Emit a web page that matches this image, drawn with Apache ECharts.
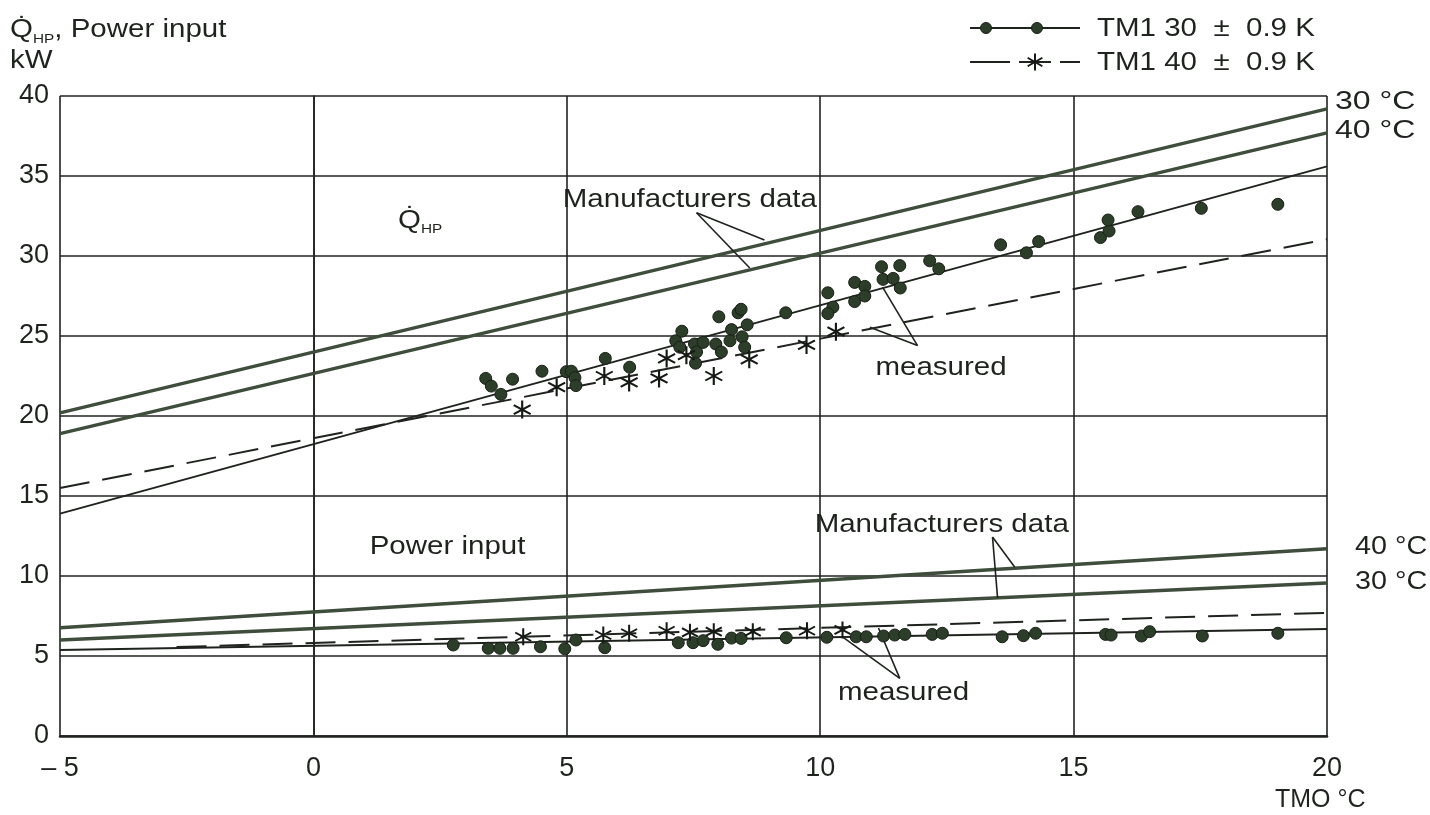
<!DOCTYPE html>
<html>
<head>
<meta charset="utf-8">
<script src="https://cdn.jsdelivr.net/npm/echarts@6/dist/echarts.min.js"></script>
<style>
  html, body { margin: 0; padding: 0; background: #fff; }
  #chart { width: 1430px; height: 815px; }
</style>
</head>
<body>
<div id="chart"></div>
<script>
// Outdoor temperature axis (TMO, °C) and power axis (kW)
const xTicks = [-5, 0, 5, 10, 15, 20];
const yTicks = [0, 5, 10, 15, 20, 25, 30, 35, 40];

// Heat output, manufacturer's straight lines (TMO, kW)
const qMfr30 = [[-5, 20.2], [20, 39.2]];
const qMfr40 = [[-5, 18.9], [20, 37.7]];
// Heat output, fitted lines through the measurements
const qFit30 = [[-5, 13.9], [20, 35.6]];
const qFit40 = [[-5, 15.5], [20, 31.05]];

// Power input, manufacturer's lines
const pMfr40 = [[-5, 6.77], [20, 11.7]];
const pMfr30 = [[-5, 6.0], [20, 9.56]];
// Power input, fitted lines through the measurements
const pFit30 = [[-5, 5.37], [20, 6.69]];
const pFit40 = [[-2.7, 5.56], [20, 7.7]];

// Measured heat output, TM1 30 ± 0.9 K
const qMeas30 = [
  [3.40, 22.35], [3.51, 21.87], [3.70, 21.35], [3.93, 22.3], [4.51, 22.8],
  [4.99, 22.77], [5.09, 22.8], [5.16, 22.4], [5.18, 21.9], [5.76, 23.6],
  [6.24, 23.05], [7.15, 24.7], [7.27, 25.3], [7.23, 24.3], [7.52, 24.5],
  [7.56, 24.0], [7.54, 23.3], [7.69, 24.6], [8.0, 26.2], [7.94, 24.5],
  [8.05, 24.0], [8.38, 26.45], [8.44, 26.67], [8.25, 25.4], [8.22, 24.7],
  [8.46, 24.95], [8.51, 24.3], [8.56, 25.7], [9.32, 26.45], [10.15, 27.7],
  [10.25, 26.8], [10.15, 26.4], [10.68, 28.35], [10.88, 28.1], [10.68, 27.15],
  [10.88, 27.5], [11.21, 29.33], [11.24, 28.54], [11.44, 28.6], [11.57, 29.4],
  [11.58, 28.0], [12.16, 29.7], [12.34, 29.2], [13.56, 30.7], [14.07, 30.2],
  [14.31, 30.9], [15.53, 31.15], [15.70, 31.56], [15.68, 32.25], [16.27, 32.77],
  [17.52, 32.98], [19.03, 33.23]
];
// Measured heat output, TM1 40 ± 0.9 K
const qMeas40 = [
  [4.12, 20.4], [4.80, 21.8], [5.74, 22.5], [6.23, 22.1], [6.82, 22.35],
  [6.97, 23.6], [7.36, 23.8], [7.90, 22.5], [8.60, 23.54], [9.73, 24.44],
  [10.31, 25.27]
];
// Measured power input, TM1 30 ± 0.9 K
const pMeas30 = [
  [2.76, 5.69], [3.45, 5.48], [3.68, 5.48], [3.94, 5.48], [4.48, 5.58],
  [4.96, 5.45], [5.18, 6.0], [5.75, 5.52], [7.20, 5.83], [7.49, 5.83],
  [7.69, 5.96], [7.98, 5.73], [8.25, 6.12], [8.44, 6.1], [9.33, 6.14],
  [10.13, 6.17], [10.71, 6.2], [10.91, 6.2], [11.25, 6.25], [11.47, 6.31],
  [11.67, 6.35], [12.21, 6.35], [12.41, 6.42], [13.59, 6.2], [14.01, 6.27],
  [14.25, 6.42], [15.63, 6.35], [15.74, 6.31], [16.34, 6.25], [16.50, 6.52],
  [17.54, 6.25], [19.03, 6.42]
];
// Measured power input, TM1 40 ± 0.9 K
const pMeas40 = [
  [4.14, 6.2], [5.72, 6.31], [6.23, 6.42], [6.97, 6.58], [7.43, 6.48],
  [7.90, 6.52], [8.67, 6.52], [9.74, 6.58], [10.44, 6.63]
];

// Leader lines from the annotations to the curves (data units)
const leaderQMfr = [[[7.56, 32.7], [8.9, 31.0]], [[7.56, 32.7], [8.61, 29.25]]];
const leaderQMeas = [[[11.23, 28.06], [11.92, 24.4]], [[10.98, 25.55], [11.92, 24.4]]];
const leaderPMfr = [[[13.4, 12.44], [13.84, 10.55]], [[13.4, 12.44], [13.5, 8.63]]];
const leaderPMeas = [[[10.44, 6.19], [11.57, 3.6]], [[11.15, 6.75], [11.57, 3.6]]];

// Annotation texts anchored in data units (left edge, vertical middle)
const notes = [
  { at: [4.92, 33.5], text: 'Manufacturers data' },
  { at: [11.09, 23.0], text: 'measured' },
  { at: [1.11, 11.8], text: 'Power input' },
  { at: [9.89, 13.2], text: 'Manufacturers data' },
  { at: [10.35, 2.7], text: 'measured' }
];

// Supply temperature tags at the right-hand end of the manufacturer's lines
const endTags = [
  { line: qMfr30, text: '30 °C', dx: 8, dy: -7, sx: 1.28 },
  { line: qMfr40, text: '40 °C', dx: 8, dy: -2, sx: 1.28 },
  { line: pMfr40, text: '40 °C', dx: 28, dy: -2, sx: 1.15 },
  { line: pMfr30, text: '30 °C', dx: 28, dy: -1, sx: 1.15 }
];

const FONT = '"Liberation Sans", Arial, sans-serif';
const INK = '#1f231e';
const MFR = '#3f4d3c';
const DOT = '#2c3d29';
const STRETCH = 1.18;

// Six-armed asterisk: one thin bar per direction
function starBars(L, w) {
  return [90, 30, -30].map(a => {
    const r = a * Math.PI / 180;
    const cx = Math.cos(r), cy = Math.sin(r);
    const px = -cy, py = cx;
    return [
      [L * cx + w * px, L * cy + w * py],
      [-L * cx + w * px, -L * cy + w * py],
      [-L * cx - w * px, -L * cy - w * py],
      [L * cx - w * px, L * cy - w * py]
    ];
  });
}
const STAR = 'path://' + starBars(10, 1.1)
  .map(pts => 'M' + pts.map(p => p[0].toFixed(2) + ',' + p[1].toFixed(2)).join('L') + 'Z').join('');

function lineSeries(data, opts) {
  return Object.assign({
    type: 'line', data: data, symbol: 'none', silent: true,
    animation: false, z: 3,
    lineStyle: { color: INK, width: 2 }
  }, opts || {});
}

const series = [
  lineSeries(qMfr30, { lineStyle: { color: MFR, width: 3.4 } }),
  lineSeries(qMfr40, { lineStyle: { color: MFR, width: 3.4 } }),
  lineSeries(pMfr40, { lineStyle: { color: MFR, width: 3.4 } }),
  lineSeries(pMfr30, { lineStyle: { color: MFR, width: 3.4 } }),
  lineSeries(qFit30, { lineStyle: { color: INK, width: 2 } }),
  lineSeries(qFit40, { lineStyle: { color: INK, width: 2, type: [30, 13] } }),
  lineSeries(pFit30, { lineStyle: { color: INK, width: 2 } }),
  lineSeries(pFit40, { lineStyle: { color: INK, width: 2, type: [30, 13] } })
];
[leaderQMfr, leaderQMeas, leaderPMfr, leaderPMeas].forEach(group => {
  group.forEach(seg => series.push(lineSeries(seg, { lineStyle: { color: INK, width: 1.6 } })));
});

const dotStyle = { color: DOT, borderColor: '#182016', borderWidth: 1, opacity: 1 };
const starStyle = { color: '#151a14', opacity: 1 };
series.push(
  { type: 'scatter', name: 'TM1 30', data: qMeas30, symbol: 'circle', symbolSize: 12, itemStyle: dotStyle, z: 5, animation: false },
  { type: 'scatter', name: 'TM1 30', data: pMeas30, symbol: 'circle', symbolSize: 12, itemStyle: dotStyle, z: 5, animation: false },
  { type: 'scatter', name: 'TM1 40', data: qMeas40, symbol: STAR, symbolSize: 18, itemStyle: starStyle, z: 5, animation: false },
  { type: 'scatter', name: 'TM1 40', data: pMeas40, symbol: STAR, symbolSize: 17, itemStyle: starStyle, z: 5, animation: false }
);

const chart = echarts.init(document.getElementById('chart'), null, { renderer: 'canvas' });
chart.setOption({
  backgroundColor: '#fff',
  animation: false,
  grid: { left: 60, right: 103, top: 96, bottom: 79, containLabel: false },
  xAxis: {
    type: 'value', min: xTicks[0], max: xTicks[xTicks.length - 1], interval: 5,
    axisLine: { show: true, onZero: false, lineStyle: { color: INK, width: 2.5 } },
    axisTick: { show: false },
    splitLine: { show: true, lineStyle: { color: INK, width: 1.6 } },
    axisLabel: {
      color: INK, fontSize: 27, fontFamily: FONT, margin: 19,
      formatter: v => v < 0 ? '– ' + Math.abs(v) : String(v)
    }
  },
  yAxis: {
    type: 'value', min: yTicks[0], max: yTicks[yTicks.length - 1], interval: 5,
    axisLine: { show: true, lineStyle: { color: INK, width: 1.6 } },
    axisTick: { show: false },
    splitLine: { show: true, lineStyle: { color: INK, width: 1.6 } },
    axisLabel: { color: INK, fontSize: 27, fontFamily: FONT, margin: 11 }
  },
  series: series
});

// Texts and legend, placed once the scales exist
const graphics = [];
const txt = (x, y, text, sx) => ({
  type: 'text', x: x, y: y, scaleX: sx || STRETCH, silent: true, z: 10,
  style: { text: text, fill: INK, font: '25px ' + FONT, textVerticalAlign: 'middle' }
});

notes.forEach(n => {
  const p = chart.convertToPixel({ gridIndex: 0 }, n.at);
  graphics.push(txt(p[0], p[1], n.text));
});

endTags.forEach(t => {
  const end = t.line[t.line.length - 1];
  const p = chart.convertToPixel({ gridIndex: 0 }, end);
  graphics.push(txt(p[0] + t.dx, p[1] + t.dy, t.text, t.sx));
});

const richQ = {
  q: { fontSize: 25, fontFamily: FONT, fill: INK, color: INK, lineHeight: 31 },
  s: { fontSize: 13, fontFamily: FONT, fill: INK, color: INK, lineHeight: 31, verticalAlign: 'bottom', padding: [6, 0, 0, 0] }
};

// Q̇HP label inside the plot
const qp = chart.convertToPixel({ gridIndex: 0 }, [1.67, 32.2]);
graphics.push({
  type: 'text', x: qp[0], y: qp[1], scaleX: STRETCH, silent: true, z: 10,
  style: { text: '{q|Q̇}{s|HP}', textVerticalAlign: 'middle', rich: richQ }
});

// Axis titles
graphics.push({
  type: 'text', x: 10, y: 15, scaleX: STRETCH, silent: true, z: 10,
  style: { text: '{q|Q̇}{s|HP}{q|, Power input}\n{q|kW}', rich: richQ }
});
graphics.push(txt(1275, 800, 'TMO °C', 1.0));

// Legend
const legendLine = (x1, y1, x2, y2) => ({
  type: 'line', shape: { x1: x1, y1: y1, x2: x2, y2: y2 },
  style: { stroke: INK, lineWidth: 2 }, silent: true
});
graphics.push(
  legendLine(970, 28, 1080, 28),
  { type: 'circle', shape: { cx: 986, cy: 28, r: 5.5 }, style: { fill: DOT, stroke: '#182016' }, silent: true },
  { type: 'circle', shape: { cx: 1037, cy: 28, r: 5.5 }, style: { fill: DOT, stroke: '#182016' }, silent: true },
  legendLine(970, 62, 1010, 62),
  legendLine(1019, 62, 1051, 62),
  legendLine(1060, 62, 1080, 62),
  txt(1097, 29, 'TM1 30  ±  0.9 K'),
  txt(1097, 63, 'TM1 40  ±  0.9 K')
);
starBars(8.5, 1.0).forEach(pts => {
  graphics.push({
    type: 'polygon', x: 1035, y: 62, silent: true, z: 11,
    shape: { points: pts }, style: { fill: '#151a14' }
  });
});

chart.setOption({ graphic: graphics });
</script>
</body>
</html>
